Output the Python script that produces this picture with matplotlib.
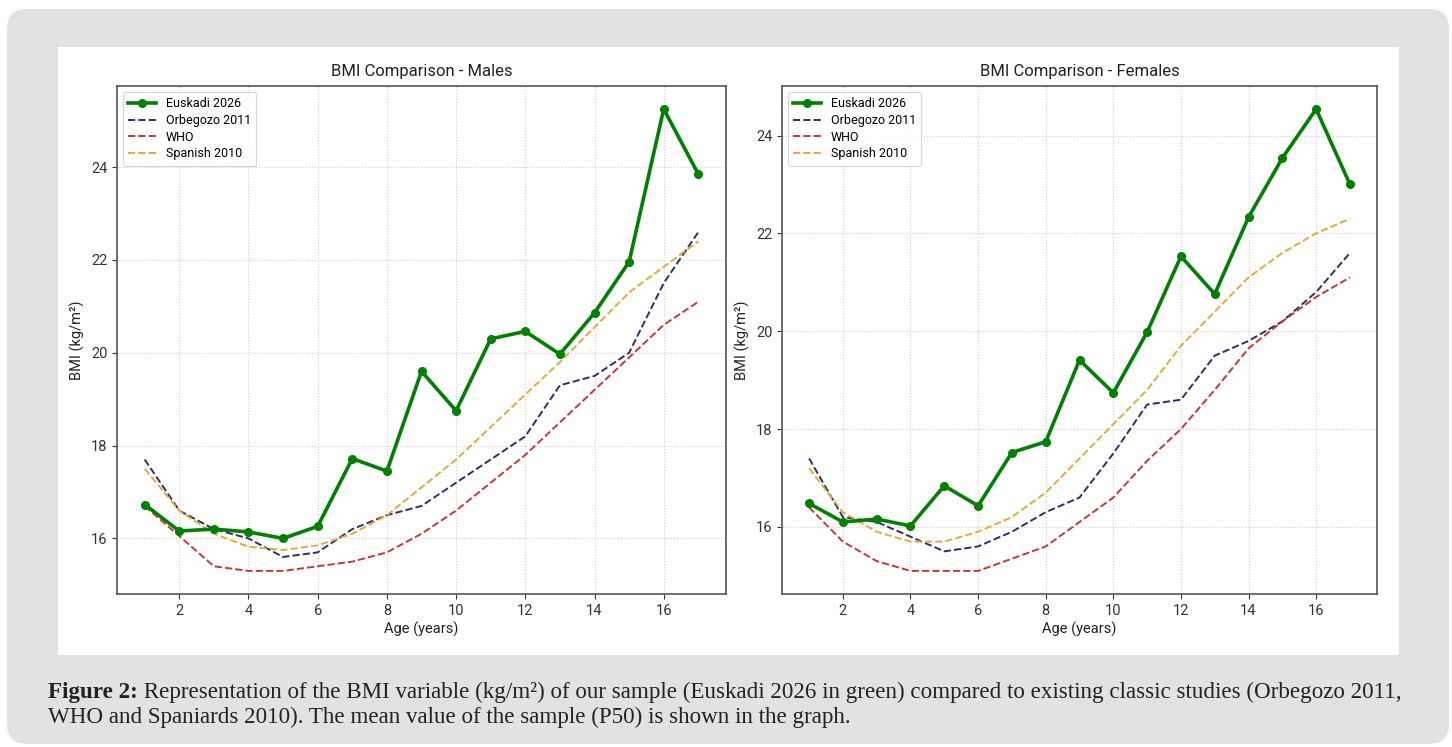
import matplotlib
matplotlib.use("Agg")
import matplotlib.pyplot as plt
from matplotlib.patches import FancyBboxPatch, Rectangle

plt.rcParams["font.family"] = ["Roboto", "DejaVu Sans"]

AGES = list(range(1, 18))

# Males (BMI, kg/m2)
MALE_EUSKADI = [16.73, 16.16, 16.2, 16.14, 16.0, 16.26, 17.72, 17.45, 19.6, 18.75,
                20.3, 20.46, 19.97, 20.86, 21.96, 25.25, 23.85]
MALE_ORBEGOZO = [17.7, 16.6, 16.2, 16.0, 15.6, 15.7, 16.2, 16.5, 16.7, 17.2,
                 17.7, 18.2, 19.3, 19.5, 20.0, 21.5, 22.6]
MALE_WHO = [16.7, 16.05, 15.4, 15.3, 15.3, 15.4, 15.5, 15.7, 16.1, 16.6,
            17.2, 17.8, 18.5, 19.2, 19.9, 20.6, 21.1]
MALE_SPANISH = [17.5, 16.6, 16.1, 15.82, 15.75, 15.85, 16.1, 16.5, 17.1, 17.7,
                18.4, 19.1, 19.8, 20.55, 21.3, 21.85, 22.4]

# Females (BMI, kg/m2)
FEMALE_EUSKADI = [16.48, 16.1, 16.16, 16.02, 16.84, 16.43, 17.52, 17.74, 19.41, 18.74,
                  19.98, 21.53, 20.76, 22.33, 23.54, 24.54, 23.0]
FEMALE_ORBEGOZO = [17.4, 16.2, 16.1, 15.8, 15.5, 15.6, 15.9, 16.3, 16.6, 17.5,
                   18.5, 18.6, 19.5, 19.8, 20.2, 20.8, 21.6]
FEMALE_WHO = [16.4, 15.7, 15.3, 15.1, 15.1, 15.1, 15.35, 15.6, 16.1, 16.6,
              17.35, 18.0, 18.8, 19.65, 20.2, 20.7, 21.1]
FEMALE_SPANISH = [17.2, 16.3, 15.9, 15.7, 15.7, 15.9, 16.2, 16.7, 17.4, 18.1,
                  18.8, 19.7, 20.4, 21.1, 21.6, 22.0, 22.3]

LABELS = ["Euskadi 2026", "Orbegozo 2011", "WHO", "Spanish 2010"]
REF_COLORS = ["#2e2e6e", "#c83737", "#e6a93a"]

CAPTION_BOLD = "Figure 2:"
CAPTION_1 = (" Representation of the BMI variable (kg/m\u00b2) of our sample (Euskadi 2026 in green) "
             "compared to existing classic studies (Orbegozo 2011,")
CAPTION_2 = "WHO and Spaniards 2010). The mean value of the sample (P50) is shown in the graph."

W, H = 1452, 747
fig = plt.figure(figsize=(W / 100, H / 100), dpi=100)
fig.patch.set_facecolor("white")

# gray page box and white chart panel (pixel coordinates), behind the axes
fig.patches.append(FancyBboxPatch((7, 3), 1442, 735, boxstyle="round,pad=0,rounding_size=20",
                                  transform=None, facecolor="#e2e2e2", edgecolor="none", zorder=-2))
fig.patches.append(Rectangle((58, H - 655), 1341, 608, transform=None,
                             facecolor="white", edgecolor="none", zorder=-1))


def draw_panel(ax, title, euskadi, refs):
    ax.plot(AGES, euskadi, color="green", linewidth=2.6, marker="o", markersize=5.5,
            label=LABELS[0], zorder=5)
    for vals, lab, col in zip(refs, LABELS[1:], REF_COLORS):
        ax.plot(AGES, vals, color=col, linestyle="--", linewidth=1.4, label=lab, zorder=4)
    ax.set_title(title, fontsize=12, color="#222222", pad=7)
    ax.set_xlabel("Age (years)", fontsize=10.5, color="#222222", labelpad=3)
    ax.set_ylabel("BMI (kg/m\u00b2)", fontsize=10.5, color="#222222")
    ax.set_xticks(range(2, 18, 2))
    ax.set_yticks(range(16, 26, 2))
    ax.grid(True, linestyle=":", color="#cfcfcf", linewidth=0.8)
    ax.tick_params(labelsize=10.5, colors="#333333", length=3.5, width=0.8)
    for sp in ax.spines.values():
        sp.set_color("#555555")
        sp.set_linewidth(1.2)
    ax.set_facecolor("white")
    leg = ax.legend(loc="upper left", fontsize=9, frameon=True, fancybox=True,
                    edgecolor="#cccccc", borderpad=0.4, labelspacing=0.3, handlelength=2.2)
    leg.get_frame().set_linewidth(0.8)


ax1 = fig.add_axes([117 / W, 1 - 594 / H, 609 / W, 508 / H])
draw_panel(ax1, "BMI Comparison - Males", MALE_EUSKADI,
           [MALE_ORBEGOZO, MALE_WHO, MALE_SPANISH])

ax2 = fig.add_axes([782 / W, 1 - 594 / H, 595 / W, 508 / H])
draw_panel(ax2, "BMI Comparison - Females", FEMALE_EUSKADI,
           [FEMALE_ORBEGOZO, FEMALE_WHO, FEMALE_SPANISH])

# caption: bold lead-in followed by regular text, sized so line 1 ends near x=1405
serif = ["Liberation Serif", "DejaVu Serif"]
cap_size = 16.6
t_bold = fig.text(48 / W, 1 - 698 / H, CAPTION_BOLD, fontsize=cap_size, fontweight="bold",
                  family=serif, color="#222222", va="baseline", ha="left")
fig.canvas.draw()
bb = t_bold.get_window_extent(renderer=fig.canvas.get_renderer())
fig.text(bb.x1 / W, 1 - 698 / H, CAPTION_1, fontsize=cap_size, family=serif,
         color="#222222", va="baseline", ha="left")
fig.text(48 / W, 1 - 723 / H, CAPTION_2, fontsize=cap_size, family=serif,
         color="#222222", va="baseline", ha="left")

fig.savefig("out.png", dpi=100)
